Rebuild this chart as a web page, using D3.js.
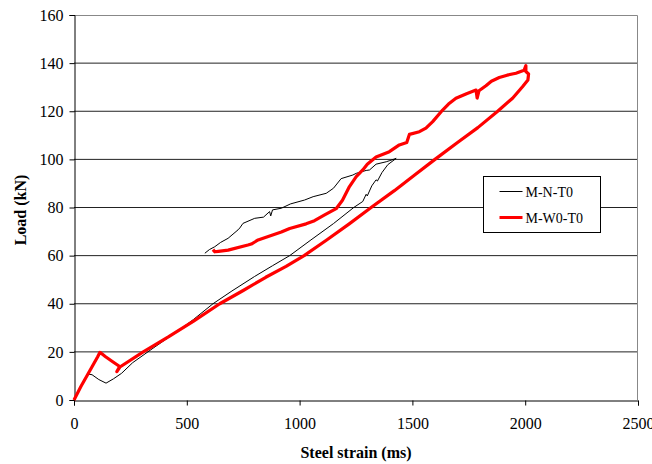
<!DOCTYPE html>
<html lang="en">
<head>
<meta charset="utf-8">
<title>Load vs steel strain</title>
<script src="https://cdn.jsdelivr.net/npm/d3@7"></script>
<style>
  body { margin: 0; background: #fff; }
  svg text { font-family: "Liberation Serif", "Times New Roman", serif; }
</style>
</head>
<body>
<script>
// tick values for both axes
var xTicks = [0, 500, 1000, 1500, 2000, 2500];
var yTicks = [0, 20, 40, 60, 80, 100, 120, 140, 160];

// series names (legend)
var seriesNames = ["M-N-T0", "M-W0-T0"];

// M-N-T0 : steel strain (ms) and load (kN)
var mnStrain = [0, 20, 45, 62, 80, 110, 142, 175, 211, 260, 350, 450, 530, 616, 700, 800, 880, 956, 1050, 1150, 1240,
  1280, 1295, 1300, 1320, 1339, 1345, 1365, 1391, 1428,
  1400, 1384, 1339, 1310, 1295, 1251, 1236, 1184, 1150, 1118, 1060, 1022, 960, 919, 880, 872, 867, 840,
  801, 749, 735, 727, 683, 650, 624, 600, 580];
var mnLoad = [0, 4, 8.5, 10.8, 10.5, 8.5, 7, 8.8, 11.1, 15.5, 21.5, 28, 33.5, 40, 45.3, 51.3, 55.8, 60, 66.5, 73.3, 80,
  82.5, 85.5, 84.8, 89, 91.5, 91, 94.5, 97.8, 100.4,
  99.5, 99, 98, 95.6, 95.4, 94.2, 93.5, 92, 88, 85.9, 84.5, 83.1, 81.5, 79.7, 79, 76.5, 78.3, 76,
  75.5, 73.4, 71.5, 70.7, 67.2, 65.5, 63.7, 62.5, 61];

// M-W0-T0
var mwStrain = [0, 30, 60, 90, 105, 115, 140, 170, 204, 190, 200, 307, 420, 530, 646, 750, 850, 940, 1020, 1120, 1220,
  1317, 1420, 1510, 1600, 1700, 1790, 1878, 1944, 1988, 2012, 2015, 2003, 2003, 1995, 1959, 1920, 1885, 1850,
  1826, 1795, 1787, 1782, 1740, 1693, 1660, 1634, 1590, 1560, 1531, 1487, 1475, 1442, 1398, 1339, 1300, 1280,
  1251, 1221, 1190, 1162, 1111, 1066, 1029, 956, 919, 816, 786, 771, 683, 640, 624, 616];
var mwLoad = [0, 5.5, 10.5, 15.5, 18, 19.8, 18, 16, 13.8, 11.8, 13.5, 20, 26.3, 32.8, 40, 45.5, 51, 55.5, 60, 66.5, 73.2,
  80, 87, 93.5, 100, 107, 113.2, 120, 125.4, 130.2, 133, 135.5, 136.5, 139, 137, 135.8, 135, 134, 132.5,
  130.6, 128.5, 125.5, 128.8, 127.3, 125.4, 123, 120.5, 115.7, 113, 111.5, 110.4, 107, 106, 103.2, 101, 98, 95.6,
  92.8, 88.7, 83, 79.5, 76.9, 74.5, 73.2, 71.3, 69.8, 66.5, 64.8, 64.4, 62.3, 61.8, 61.6, 62.5];

var w = 652, h = 464;
var plotLeft = 74, plotRight = 638, plotTop = 15, plotBottom = 400;

var svg = d3.select("body").append("svg")
  .attr("width", w)
  .attr("height", h);

var x = d3.scaleLinear().domain([0, 2500]).range([plotLeft, plotRight]);
var y = d3.scaleLinear().domain([0, 160]).range([plotBottom, plotTop]);

// horizontal gridlines
svg.selectAll("line.grid")
  .data(yTicks.filter(function(d) { return d > 0 && d < 160; }))
  .enter().append("line")
  .attr("class", "grid")
  .attr("x1", plotLeft).attr("x2", plotRight)
  .attr("y1", function(d) { return y(d); })
  .attr("y2", function(d) { return y(d); })
  .attr("stroke", "#222")
  .attr("stroke-width", 1);

// plot area border (top and right in grey)
svg.append("path")
  .attr("d", "M" + plotLeft + "," + (plotTop + 0.5) + "H" + (plotRight - 0.5) + "V" + plotBottom)
  .attr("fill", "none")
  .attr("stroke", "#888");

// axes
var yAxis = d3.axisLeft(y).tickValues(yTicks).tickSize(5).tickPadding(6);
var xAxis = d3.axisBottom(x).tickValues(xTicks).tickFormat(d3.format("d")).tickSize(5).tickPadding(12);

var gy = svg.append("g")
  .attr("transform", "translate(" + (plotLeft + 0.5) + ",0)")
  .call(yAxis);
var gx = svg.append("g")
  .attr("transform", "translate(0," + (plotBottom + 0.5) + ")")
  .call(xAxis);

[gx, gy].forEach(function(g) {
  g.select(".domain").attr("stroke", "#000");
  g.selectAll(".tick line").attr("stroke", "#000");
  g.selectAll("text")
    .attr("font-family", "Liberation Serif, serif")
    .attr("font-size", 16)
    .attr("fill", "#000");
});

// axis titles
svg.append("text")
  .attr("x", 356).attr("y", 458)
  .attr("text-anchor", "middle")
  .attr("font-size", 16).attr("font-weight", "bold")
  .text("Steel strain (ms)");

svg.append("text")
  .attr("transform", "translate(26,210) rotate(-90)")
  .attr("text-anchor", "middle")
  .attr("font-size", 16).attr("font-weight", "bold")
  .text("Load (kN)");

// series lines
var line = d3.line()
  .x(function(d) { return x(d[0]); })
  .y(function(d) { return y(d[1]); });

var mnData = d3.zip(mnStrain, mnLoad);
var mwData = d3.zip(mwStrain, mwLoad);

svg.append("path")
  .datum(mnData)
  .attr("d", line)
  .attr("fill", "none")
  .attr("stroke", "#000")
  .attr("stroke-width", 1)
  .attr("stroke-linejoin", "round");

svg.append("path")
  .datum(mwData)
  .attr("d", line)
  .attr("fill", "none")
  .attr("stroke", "#ff0000")
  .attr("stroke-width", 3.2)
  .attr("stroke-linejoin", "round");

// legend
var legend = svg.append("g").attr("transform", "translate(483.5,176.5)");
legend.append("rect")
  .attr("width", 117).attr("height", 56)
  .attr("fill", "#fff").attr("stroke", "#000");

var legendColors = ["#000", "#ff0000"];
var legendWidths = [1, 3];
seriesNames.forEach(function(name, i) {
  var ly = 15 + i * 26;
  legend.append("line")
    .attr("x1", 16).attr("x2", 39)
    .attr("y1", ly).attr("y2", ly)
    .attr("stroke", legendColors[i])
    .attr("stroke-width", legendWidths[i]);
  legend.append("text")
    .attr("x", 42).attr("y", ly + 5)
    .attr("font-size", 14)
    .text(name);
});
</script>
</body>
</html>
